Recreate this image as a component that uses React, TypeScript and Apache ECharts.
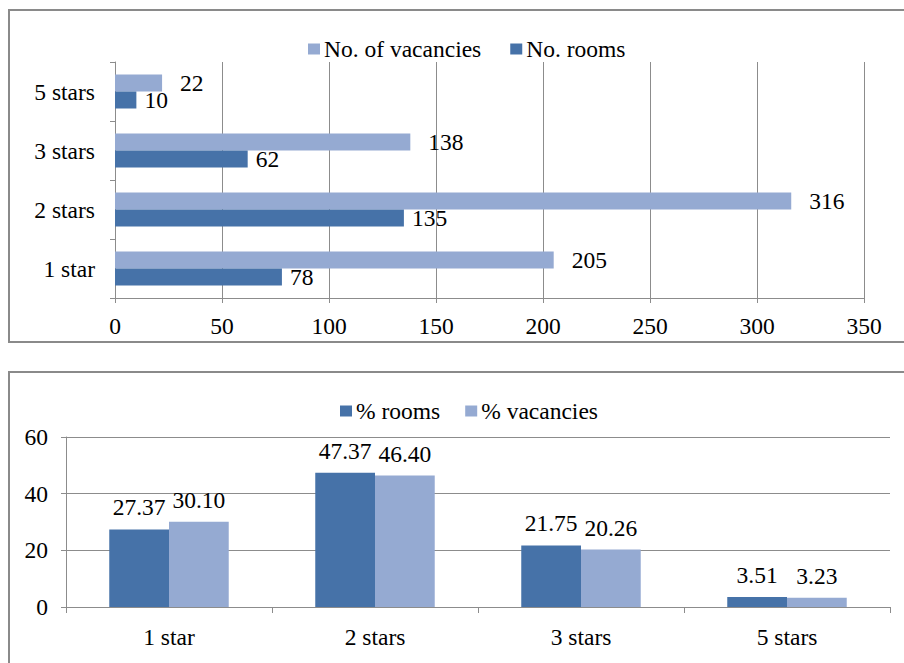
import React, { useEffect, useRef } from "react";
import * as echarts from "echarts";

const categories = ["1 star", "2 stars", "3 stars", "5 stars"];
const noVacancies = [205, 316, 138, 22];
const noRooms = [78, 135, 62, 10];
const pctRooms = [27.37, 47.37, 21.75, 3.51];
const pctVacancies = [30.1, 46.4, 20.26, 3.23];

const DARK = "#4672A8";
const LIGHT = "#95AAD2";
const GRID = "#8c8c8c";
const FONT = "Liberation Serif";

export default function App() {
  const ref = useRef<HTMLDivElement>(null);
  useEffect(() => {
    if (!ref.current) return;
    const chart = echarts.init(ref.current, null, { renderer: "svg" });
    const txt = { fontFamily: FONT, fontSize: 23.5, color: "#000" };
    chart.setOption({
      animation: false,
      graphic: [
        { type: "rect", shape: { x: 9, y: 10, width: 910, height: 332 }, style: { fill: "none", stroke: "#8a8a8a", lineWidth: 2 }, silent: true },
        { type: "rect", shape: { x: 9, y: 372, width: 910, height: 320 }, style: { fill: "none", stroke: "#8a8a8a", lineWidth: 2 }, silent: true },
      ],
      legend: [
        {
          left: 303, top: 32, itemWidth: 12, itemHeight: 11, itemGap: 29,
          icon: "rect",
          data: ["No. of vacancies", "No. rooms"],
          textStyle: { fontFamily: FONT, fontSize: 23.5, color: "#000", padding: [0, 0, 0, -1] },
        },
        {
          left: 335, top: 394, itemWidth: 12, itemHeight: 11, itemGap: 25,
          icon: "rect",
          data: ["% rooms", "% vacancies"],
          textStyle: { fontFamily: FONT, fontSize: 23.5, color: "#000", padding: [0, 0, 0, -1] },
        },
      ],
      grid: [
        { left: 115, right: 40, top: 62, height: 236 },
        { left: 66, right: 14, top: 437, height: 170 },
      ],
      xAxis: [
        {
          gridIndex: 0, type: "value", min: 0, max: 350, interval: 50,
          axisLine: { show: true, lineStyle: { color: GRID } },
          axisTick: { show: true, length: 5, lineStyle: { color: GRID } },
          splitLine: { show: true, lineStyle: { color: GRID } },
          axisLabel: { ...txt, margin: 16 },
        },
        {
          gridIndex: 1, type: "category", data: categories,
          axisLine: { show: true, lineStyle: { color: GRID } },
          axisTick: { show: true, length: 6, lineStyle: { color: GRID } },
          axisLabel: { ...txt, margin: 18 },
        },
      ],
      yAxis: [
        {
          gridIndex: 0, type: "category", data: categories,
          axisLine: { show: true, lineStyle: { color: GRID } },
          axisTick: { show: true, length: 5, lineStyle: { color: GRID } },
          axisLabel: { ...txt, margin: 20 },
        },
        {
          gridIndex: 1, type: "value", min: 0, max: 60, interval: 20,
          axisLine: { show: true, lineStyle: { color: GRID } },
          axisTick: { show: true, length: 5, lineStyle: { color: GRID } },
          splitLine: { show: true, lineStyle: { color: GRID } },
          axisLabel: { ...txt, margin: 18 },
        },
      ],
      series: [
        {
          name: "No. of vacancies", type: "bar", xAxisIndex: 0, yAxisIndex: 0,
          data: noVacancies, itemStyle: { color: LIGHT },
          barCategoryGap: "42%", barGap: "0%",
          label: { show: true, position: "right", distance: 18, ...txt },
        },
        {
          name: "No. rooms", type: "bar", xAxisIndex: 0, yAxisIndex: 0,
          data: noRooms, itemStyle: { color: DARK },
          barCategoryGap: "42%", barGap: "0%",
          label: { show: true, position: "right", distance: 8, ...txt },
        },
        {
          name: "% rooms", type: "bar", xAxisIndex: 1, yAxisIndex: 1,
          data: pctRooms, itemStyle: { color: DARK },
          barCategoryGap: "42%", barGap: "0%",
          label: { show: true, position: "top", distance: 10, ...txt, formatter: (p: any) => p.value.toFixed(2) },
        },
        {
          name: "% vacancies", type: "bar", xAxisIndex: 1, yAxisIndex: 1,
          data: pctVacancies, itemStyle: { color: LIGHT },
          barCategoryGap: "42%", barGap: "0%",
          label: { show: true, position: "top", distance: 10, ...txt, formatter: (p: any) => p.value.toFixed(2) },
        },
      ],
    });
    return () => chart.dispose();
  }, []);
  return (
    <div
      ref={ref}
      style={{ position: "absolute", left: 0, top: 0, width: 904, height: 663 }}
    />
  );
}
